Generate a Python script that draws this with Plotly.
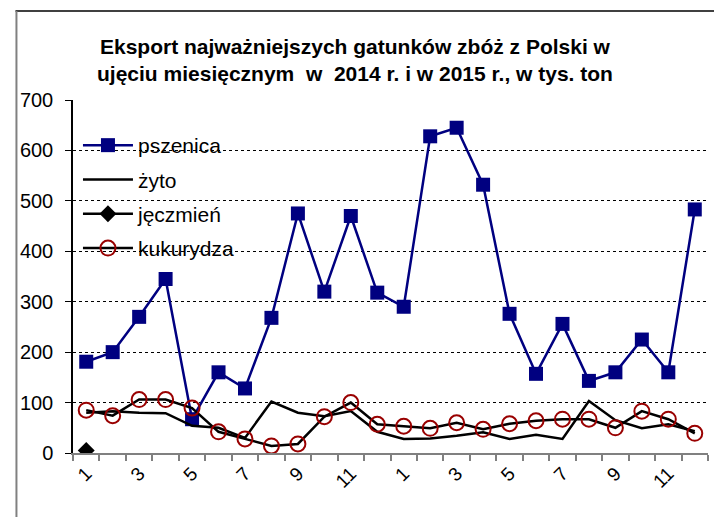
import plotly.graph_objects as go

months = list(range(1, 25))
tick_positions = [1, 3, 5, 7, 9, 11, 13, 15, 17, 19, 21, 23]
tick_labels = ["1", "3", "5", "7", "9", "11", "1", "3", "5", "7", "9", "11"]

pszenica = [181, 200, 270, 345, 67, 160, 128, 268, 475, 320, 470, 318,
            290, 628, 645, 532, 276, 157, 256, 143, 160, 225, 160, 483]
zyto = [80, 83, 80, 79, 54, 50, 30, 102, 80, 73, 83, 42,
        28, 29, 34, 41, 28, 36, 28, 103, 65, 49, 57, 43]
jeczmien = [5] + [None] * 23
kukurydza = [85, 74, 106, 106, 89, 42, 28, 14, 18, 72, 100, 57,
             53, 49, 60, 47, 58, 64, 67, 67, 50, 83, 67, 39]

FONT = "Liberation Sans, Arial, sans-serif"

fig = go.Figure()
fig.add_trace(go.Scatter(x=months, y=pszenica, name="pszenica", mode="lines+markers",
                         legendgroup="a",
                         line=dict(color="#000080", width=2.5),
                         marker=dict(symbol="square", size=14, color="#000080")))
fig.add_trace(go.Scatter(x=months, y=zyto, name="żyto", mode="lines", legendgroup="b",
                         line=dict(color="black", width=2.5)))
fig.add_trace(go.Scatter(x=months, y=jeczmien, name="jęczmień", mode="lines+markers",
                         legendgroup="c",
                         line=dict(color="black", width=2.5),
                         marker=dict(symbol="diamond", size=13, color="black")))
fig.add_trace(go.Scatter(x=months, y=kukurydza, name="kukurydza", mode="lines+markers",
                         legendgroup="d",
                         line=dict(color="black", width=2.5),
                         marker=dict(symbol="circle-open", size=15, color="#990000",
                                     line=dict(width=2, color="#990000"))))

# page offset (browser body margin)
O = 8
W, H = 722 - O, 517 - O
L, R, T, B = 68 - O, W - (708 - O), 100 - O, H - (453 - O)
pw = W - L - R
ph = H - T - B


def px_x(p):
    return (p - O - L) / pw


def px_y(p):
    return (H - B - (p - O)) / ph


fig.update_layout(
    width=W, height=H,
    margin=dict(l=L, r=R, t=T, b=B),
    paper_bgcolor="white", plot_bgcolor="white",
    showlegend=True,
    legend=dict(x=px_x(73), y=px_y(125), xanchor="left", yanchor="top",
                font=dict(family=FONT, size=21, color="black"),
                bgcolor="rgba(0,0,0,0)", tracegroupgap=4, itemwidth=50),
    annotations=[dict(
        text="<b>Eksport najważniejszych gatunków zbóż z Polski w<br>ujęciu miesięcznym  w  2014 r. i w 2015 r., w tys. ton</b>",
        x=px_x(352), y=px_y(60), xref="paper", yref="paper",
        xanchor="center", yanchor="middle", showarrow=False, align="center",
        font=dict(family=FONT, size=21, color="black"))],
    shapes=[
        dict(type="line", xref="paper", yref="paper", x0=px_x(10), x1=px_x(730),
             y0=px_y(11), y1=px_y(11), line=dict(color="#404040", width=2)),
        dict(type="line", xref="paper", yref="paper", x0=px_x(11), x1=px_x(11),
             y0=px_y(11), y1=px_y(530), line=dict(color="#808080", width=2)),
    ],
)

fig.update_xaxes(
    range=[0.5, 24.5], tickmode="array", tickvals=tick_positions, ticktext=tick_labels,
    tickangle=-45, ticks="", showgrid=False, zeroline=False,
    showline=True, linecolor="#808080", linewidth=2,
    tickfont=dict(family=FONT, size=19, color="black"),
    minor=dict(tickmode="linear", tick0=0.5, dtick=1, ticks="outside", ticklen=6,
               tickcolor="#808080", tickwidth=1.5, showgrid=False),
)
fig.update_yaxes(
    range=[0, 700], tickmode="array", tickvals=[0, 100, 200, 300, 400, 500, 600, 700],
    ticks="outside", ticklen=6, tickcolor="black", tickwidth=1,
    showgrid=True, gridcolor="black", griddash="dot", gridwidth=1,
    zeroline=False, showline=True, linecolor="black", linewidth=1.5,
    tickfont=dict(family=FONT, size=20, color="black"), ticklabelstandoff=8,
)

fig.write_html("out.html")
